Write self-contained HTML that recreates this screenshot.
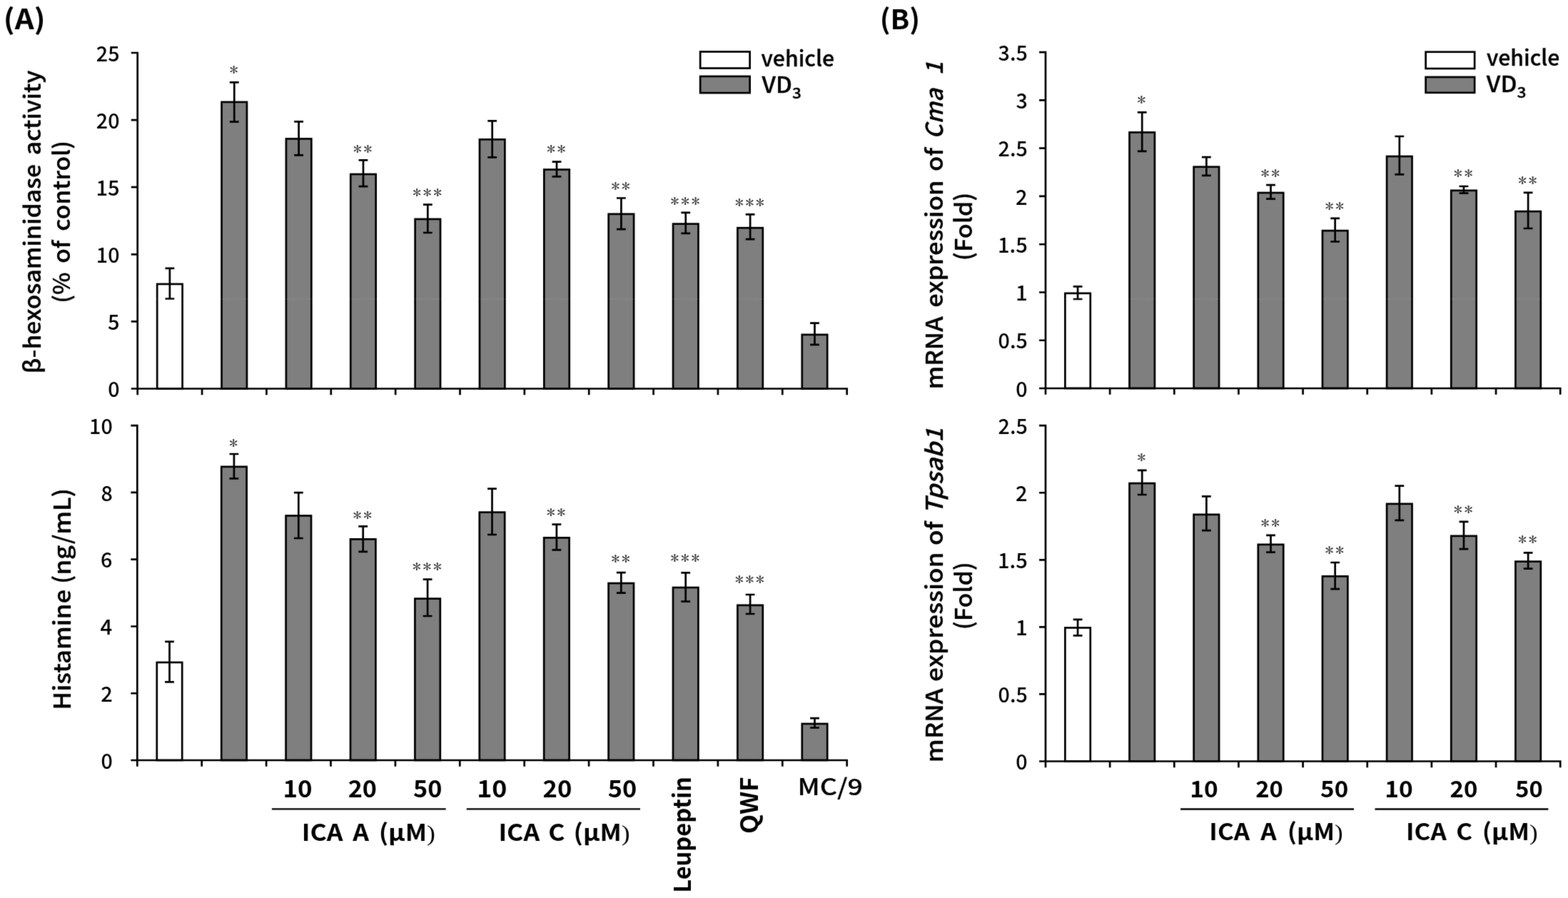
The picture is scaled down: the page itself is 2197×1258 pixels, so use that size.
<!DOCTYPE html><html><head><meta charset="utf-8"><title>Figure</title><style>html,body{margin:0;padding:0;background:#fff;overflow:hidden}svg{display:block}</style></head><body>
<svg width="2197" height="1258" viewBox="0 0 2197 1258">
<defs><filter id="soft" x="0" y="0" width="2197" height="1258" filterUnits="userSpaceOnUse" color-interpolation-filters="sRGB"><feConvolveMatrix order="3" kernelMatrix="0.01134 0.08382 0.01134 0.08382 0.61935 0.08382 0.01134 0.08382 0.01134" divisor="1" edgeMode="duplicate"/></filter></defs>
<g filter="url(#soft)">
<rect width="2197" height="1258" fill="#fff"/>
<g><rect x="220.18" y="397.95" width="35.4" height="146.55" fill="#fff" stroke="#000" stroke-width="2.7"/><path d="M237.88 375.8V418.5M231.48 375.8H244.28M231.48 418.5H244.28" stroke="#000" stroke-width="2.7" fill="none"/><rect x="310.54" y="142.95" width="35.4" height="401.55" fill="#7f7f7f" stroke="#000" stroke-width="2.7"/><path d="M328.24 115.3V170.6M321.84 115.3H334.64M321.84 170.6H334.64" stroke="#000" stroke-width="2.7" fill="none"/><text transform="translate(321.38 105.66) scale(0.2464 0.2240)" font-family="&quot;IPAGothic&quot;, &quot;Liberation Serif&quot;, sans-serif" font-size="100" letter-spacing="9" fill="#303030">*</text><rect x="400.9" y="194.45" width="35.4" height="350.05" fill="#7f7f7f" stroke="#000" stroke-width="2.7"/><path d="M418.6 170.3V217.4M412.2 170.3H425M412.2 217.4H425" stroke="#000" stroke-width="2.7" fill="none"/><rect x="491.26" y="244.05" width="35.4" height="300.45" fill="#7f7f7f" stroke="#000" stroke-width="2.7"/><path d="M508.96 224.4V261.2M502.56 224.4H515.36M502.56 261.2H515.36" stroke="#000" stroke-width="2.7" fill="none"/><text transform="translate(494.83 217.26) scale(0.2464 0.2240)" font-family="&quot;IPAGothic&quot;, &quot;Liberation Serif&quot;, sans-serif" font-size="100" letter-spacing="9" fill="#303030">**</text><rect x="581.62" y="306.95" width="35.4" height="237.55" fill="#7f7f7f" stroke="#000" stroke-width="2.7"/><path d="M599.32 286.6V326M592.92 286.6H605.72M592.92 326H605.72" stroke="#000" stroke-width="2.7" fill="none"/><text transform="translate(577.92 277.51) scale(0.2464 0.2240)" font-family="&quot;IPAGothic&quot;, &quot;Liberation Serif&quot;, sans-serif" font-size="100" letter-spacing="9" fill="#303030">***</text><rect x="671.98" y="195.35" width="35.4" height="349.15" fill="#7f7f7f" stroke="#000" stroke-width="2.7"/><path d="M689.68 169.4V220.3M683.28 169.4H696.08M683.28 220.3H696.08" stroke="#000" stroke-width="2.7" fill="none"/><rect x="762.34" y="237.55" width="35.4" height="306.95" fill="#7f7f7f" stroke="#000" stroke-width="2.7"/><path d="M780.04 226.6V247.3M773.64 226.6H786.44M773.64 247.3H786.44" stroke="#000" stroke-width="2.7" fill="none"/><text transform="translate(765.91 217.16) scale(0.2464 0.2240)" font-family="&quot;IPAGothic&quot;, &quot;Liberation Serif&quot;, sans-serif" font-size="100" letter-spacing="9" fill="#303030">**</text><rect x="852.7" y="299.85" width="35.4" height="244.65" fill="#7f7f7f" stroke="#000" stroke-width="2.7"/><path d="M870.4 277.5V321.2M864 277.5H876.8M864 321.2H876.8" stroke="#000" stroke-width="2.7" fill="none"/><text transform="translate(856.27 269.16) scale(0.2464 0.2240)" font-family="&quot;IPAGothic&quot;, &quot;Liberation Serif&quot;, sans-serif" font-size="100" letter-spacing="9" fill="#303030">**</text><rect x="943.06" y="313.65" width="35.4" height="230.85" fill="#7f7f7f" stroke="#000" stroke-width="2.7"/><path d="M960.76 297.8V326.8M954.36 297.8H967.16M954.36 326.8H967.16" stroke="#000" stroke-width="2.7" fill="none"/><text transform="translate(939.36 290.16) scale(0.2464 0.2240)" font-family="&quot;IPAGothic&quot;, &quot;Liberation Serif&quot;, sans-serif" font-size="100" letter-spacing="9" fill="#303030">***</text><rect x="1033.42" y="319.25" width="35.4" height="225.25" fill="#7f7f7f" stroke="#000" stroke-width="2.7"/><path d="M1051.12 300.4V335.2M1044.72 300.4H1057.52M1044.72 335.2H1057.52" stroke="#000" stroke-width="2.7" fill="none"/><text transform="translate(1029.72 291.96) scale(0.2464 0.2240)" font-family="&quot;IPAGothic&quot;, &quot;Liberation Serif&quot;, sans-serif" font-size="100" letter-spacing="9" fill="#303030">***</text><rect x="1123.78" y="468.85" width="35.4" height="75.65" fill="#7f7f7f" stroke="#000" stroke-width="2.7"/><path d="M1141.48 452.7V482.8M1135.08 452.7H1147.88M1135.08 482.8H1147.88" stroke="#000" stroke-width="2.7" fill="none"/><path d="M192.7 74V544.5H1186.7M185.1 74H192.7M185.1 168.1H192.7M185.1 262.2H192.7M185.1 356.3H192.7M185.1 450.4H192.7M185.1 544.5H192.7M192.7 544.5V551.8M283.06 544.5V551.8M373.42 544.5V551.8M463.78 544.5V551.8M554.14 544.5V551.8M644.5 544.5V551.8M734.86 544.5V551.8M825.22 544.5V551.8M915.58 544.5V551.8M1005.94 544.5V551.8M1096.3 544.5V551.8M1186.66 544.5V551.8" stroke="#000" stroke-width="2.7" fill="none" stroke-linecap="square"/><text transform="translate(134.87 85.71) scale(0.2865)" font-family="&quot;Noto Sans CJK KR&quot;, &quot;Liberation Sans&quot;, sans-serif" font-weight="500" font-size="100">25</text><text transform="translate(134.87 179.81) scale(0.2865)" font-family="&quot;Noto Sans CJK KR&quot;, &quot;Liberation Sans&quot;, sans-serif" font-weight="500" font-size="100">20</text><text transform="translate(134.45 273.91) scale(0.2904)" font-family="&quot;Noto Sans CJK KR&quot;, &quot;Liberation Sans&quot;, sans-serif" font-weight="500" font-size="100">15</text><text transform="translate(134.87 368.01) scale(0.2865)" font-family="&quot;Noto Sans CJK KR&quot;, &quot;Liberation Sans&quot;, sans-serif" font-weight="500" font-size="100">10</text><text transform="translate(151 462.11) scale(0.2904)" font-family="&quot;Noto Sans CJK KR&quot;, &quot;Liberation Sans&quot;, sans-serif" font-weight="500" font-size="100">5</text><text transform="translate(151.2 556.21) scale(0.2865)" font-family="&quot;Noto Sans CJK KR&quot;, &quot;Liberation Sans&quot;, sans-serif" font-weight="500" font-size="100">0</text></g>
<g><rect x="219.8" y="927.95" width="35.4" height="137.05" fill="#fff" stroke="#000" stroke-width="2.7"/><path d="M237.5 898.9V955.4M231.1 898.9H243.9M231.1 955.4H243.9" stroke="#000" stroke-width="2.7" fill="none"/><rect x="310.2" y="653.85" width="35.4" height="411.15" fill="#7f7f7f" stroke="#000" stroke-width="2.7"/><path d="M327.9 636V670.4M321.5 636H334.3M321.5 670.4H334.3" stroke="#000" stroke-width="2.7" fill="none"/><text transform="translate(321.04 628.81) scale(0.2464 0.2240)" font-family="&quot;IPAGothic&quot;, &quot;Liberation Serif&quot;, sans-serif" font-size="100" letter-spacing="9" fill="#303030">*</text><rect x="400.6" y="722.45" width="35.4" height="342.55" fill="#7f7f7f" stroke="#000" stroke-width="2.7"/><path d="M418.3 690.1V754M411.9 690.1H424.7M411.9 754H424.7" stroke="#000" stroke-width="2.7" fill="none"/><rect x="491" y="755.35" width="35.4" height="309.65" fill="#7f7f7f" stroke="#000" stroke-width="2.7"/><path d="M508.7 737.4V772.9M502.3 737.4H515.1M502.3 772.9H515.1" stroke="#000" stroke-width="2.7" fill="none"/><text transform="translate(494.57 729.51) scale(0.2464 0.2240)" font-family="&quot;IPAGothic&quot;, &quot;Liberation Serif&quot;, sans-serif" font-size="100" letter-spacing="9" fill="#303030">**</text><rect x="581.4" y="838.65" width="35.4" height="226.35" fill="#7f7f7f" stroke="#000" stroke-width="2.7"/><path d="M599.1 811.7V863M592.7 811.7H605.5M592.7 863H605.5" stroke="#000" stroke-width="2.7" fill="none"/><text transform="translate(577.7 802.46) scale(0.2464 0.2240)" font-family="&quot;IPAGothic&quot;, &quot;Liberation Serif&quot;, sans-serif" font-size="100" letter-spacing="9" fill="#303030">***</text><rect x="671.8" y="717.65" width="35.4" height="347.35" fill="#7f7f7f" stroke="#000" stroke-width="2.7"/><path d="M689.5 684.6V749M683.1 684.6H695.9M683.1 749H695.9" stroke="#000" stroke-width="2.7" fill="none"/><rect x="762.2" y="753.35" width="35.4" height="311.65" fill="#7f7f7f" stroke="#000" stroke-width="2.7"/><path d="M779.9 734.6V770.4M773.5 734.6H786.3M773.5 770.4H786.3" stroke="#000" stroke-width="2.7" fill="none"/><text transform="translate(765.77 726.21) scale(0.2464 0.2240)" font-family="&quot;IPAGothic&quot;, &quot;Liberation Serif&quot;, sans-serif" font-size="100" letter-spacing="9" fill="#303030">**</text><rect x="852.6" y="817.05" width="35.4" height="247.95" fill="#7f7f7f" stroke="#000" stroke-width="2.7"/><path d="M870.3 802.1V830.7M863.9 802.1H876.7M863.9 830.7H876.7" stroke="#000" stroke-width="2.7" fill="none"/><text transform="translate(856.17 791.21) scale(0.2464 0.2240)" font-family="&quot;IPAGothic&quot;, &quot;Liberation Serif&quot;, sans-serif" font-size="100" letter-spacing="9" fill="#303030">**</text><rect x="943" y="823.05" width="35.4" height="241.95" fill="#7f7f7f" stroke="#000" stroke-width="2.7"/><path d="M960.7 802.3V842.7M954.3 802.3H967.1M954.3 842.7H967.1" stroke="#000" stroke-width="2.7" fill="none"/><text transform="translate(939.3 790.11) scale(0.2464 0.2240)" font-family="&quot;IPAGothic&quot;, &quot;Liberation Serif&quot;, sans-serif" font-size="100" letter-spacing="9" fill="#303030">***</text><rect x="1033.4" y="847.85" width="35.4" height="217.15" fill="#7f7f7f" stroke="#000" stroke-width="2.7"/><path d="M1051.1 833V860M1044.7 833H1057.5M1044.7 860H1057.5" stroke="#000" stroke-width="2.7" fill="none"/><text transform="translate(1029.7 820.31) scale(0.2464 0.2240)" font-family="&quot;IPAGothic&quot;, &quot;Liberation Serif&quot;, sans-serif" font-size="100" letter-spacing="9" fill="#303030">***</text><rect x="1123.8" y="1013.95" width="35.4" height="51.05" fill="#7f7f7f" stroke="#000" stroke-width="2.7"/><path d="M1141.5 1006.2V1019.5M1135.1 1006.2H1147.9M1135.1 1019.5H1147.9" stroke="#000" stroke-width="2.7" fill="none"/><path d="M192.3 596.2V1065H1186.7M184.7 596.2H192.3M184.7 689.96H192.3M184.7 783.72H192.3M184.7 877.48H192.3M184.7 971.24H192.3M184.7 1065H192.3M192.3 1065V1072.3M282.7 1065V1072.3M373.1 1065V1072.3M463.5 1065V1072.3M553.9 1065V1072.3M644.3 1065V1072.3M734.7 1065V1072.3M825.1 1065V1072.3M915.5 1065V1072.3M1005.9 1065V1072.3M1096.3 1065V1072.3M1186.7 1065V1072.3" stroke="#000" stroke-width="2.7" fill="none" stroke-linecap="square"/><text transform="translate(125.07 607.91) scale(0.2865)" font-family="&quot;Noto Sans CJK KR&quot;, &quot;Liberation Sans&quot;, sans-serif" font-weight="500" font-size="100">10</text><text transform="translate(141.4 701.67) scale(0.2865)" font-family="&quot;Noto Sans CJK KR&quot;, &quot;Liberation Sans&quot;, sans-serif" font-weight="500" font-size="100">8</text><text transform="translate(141.12 795.43) scale(0.2865)" font-family="&quot;Noto Sans CJK KR&quot;, &quot;Liberation Sans&quot;, sans-serif" font-weight="500" font-size="100">6</text><text transform="translate(140.4 889.48) scale(0.2944)" font-family="&quot;Noto Sans CJK KR&quot;, &quot;Liberation Sans&quot;, sans-serif" font-weight="500" font-size="100">4</text><text transform="translate(141.2 983.24) scale(0.2904)" font-family="&quot;Noto Sans CJK KR&quot;, &quot;Liberation Sans&quot;, sans-serif" font-weight="500" font-size="100">2</text><text transform="translate(141.4 1076.71) scale(0.2865)" font-family="&quot;Noto Sans CJK KR&quot;, &quot;Liberation Sans&quot;, sans-serif" font-weight="500" font-size="100">0</text></g>
<g><rect x="1492.38" y="410.85" width="35.4" height="133.15" fill="#fff" stroke="#000" stroke-width="2.7"/><path d="M1510.08 401.4V419M1503.67 401.4H1516.48M1503.67 419H1516.48" stroke="#000" stroke-width="2.7" fill="none"/><rect x="1582.52" y="185.45" width="35.4" height="358.55" fill="#7f7f7f" stroke="#000" stroke-width="2.7"/><path d="M1600.22 157.4V211.9M1593.82 157.4H1606.62M1593.82 211.9H1606.62" stroke="#000" stroke-width="2.7" fill="none"/><text transform="translate(1593.36 147.51) scale(0.2464 0.2240)" font-family="&quot;IPAGothic&quot;, &quot;Liberation Serif&quot;, sans-serif" font-size="100" letter-spacing="9" fill="#303030">*</text><rect x="1672.67" y="233.75" width="35.4" height="310.25" fill="#7f7f7f" stroke="#000" stroke-width="2.7"/><path d="M1690.38 220.2V245.8M1683.97 220.2H1696.78M1683.97 245.8H1696.78" stroke="#000" stroke-width="2.7" fill="none"/><rect x="1762.83" y="270.05" width="35.4" height="273.95" fill="#7f7f7f" stroke="#000" stroke-width="2.7"/><path d="M1780.53 259.1V278.7M1774.12 259.1H1786.93M1774.12 278.7H1786.93" stroke="#000" stroke-width="2.7" fill="none"/><text transform="translate(1766.4 250.51) scale(0.2464 0.2240)" font-family="&quot;IPAGothic&quot;, &quot;Liberation Serif&quot;, sans-serif" font-size="100" letter-spacing="9" fill="#303030">**</text><rect x="1852.97" y="323.15" width="35.4" height="220.85" fill="#7f7f7f" stroke="#000" stroke-width="2.7"/><path d="M1870.67 305.8V338.5M1864.27 305.8H1877.08M1864.27 338.5H1877.08" stroke="#000" stroke-width="2.7" fill="none"/><text transform="translate(1856.55 297.16) scale(0.2464 0.2240)" font-family="&quot;IPAGothic&quot;, &quot;Liberation Serif&quot;, sans-serif" font-size="100" letter-spacing="9" fill="#303030">**</text><rect x="1943.12" y="219.05" width="35.4" height="324.95" fill="#7f7f7f" stroke="#000" stroke-width="2.7"/><path d="M1960.83 191V244.4M1954.42 191H1967.23M1954.42 244.4H1967.23" stroke="#000" stroke-width="2.7" fill="none"/><rect x="2033.27" y="266.85" width="35.4" height="277.15" fill="#7f7f7f" stroke="#000" stroke-width="2.7"/><path d="M2050.97 261V270.6M2044.57 261H2057.38M2044.57 270.6H2057.38" stroke="#000" stroke-width="2.7" fill="none"/><text transform="translate(2036.85 251.11) scale(0.2464 0.2240)" font-family="&quot;IPAGothic&quot;, &quot;Liberation Serif&quot;, sans-serif" font-size="100" letter-spacing="9" fill="#303030">**</text><rect x="2123.43" y="296.15" width="35.4" height="247.85" fill="#7f7f7f" stroke="#000" stroke-width="2.7"/><path d="M2141.12 269.9V320M2134.72 269.9H2147.53M2134.72 320H2147.53" stroke="#000" stroke-width="2.7" fill="none"/><text transform="translate(2127 261.31) scale(0.2464 0.2240)" font-family="&quot;IPAGothic&quot;, &quot;Liberation Serif&quot;, sans-serif" font-size="100" letter-spacing="9" fill="#303030">**</text><path d="M1465 73.2V544H2186.2M1457.4 73.2H1465M1457.4 140.46H1465M1457.4 207.71H1465M1457.4 274.97H1465M1457.4 342.23H1465M1457.4 409.49H1465M1457.4 476.74H1465M1457.4 544H1465M1465 544V551.3M1555.15 544V551.3M1645.3 544V551.3M1735.45 544V551.3M1825.6 544V551.3M1915.75 544V551.3M2005.9 544V551.3M2096.05 544V551.3M2186.2 544V551.3" stroke="#000" stroke-width="2.7" fill="none" stroke-linecap="square"/><text transform="translate(1398.56 84.91) scale(0.2865)" font-family="&quot;Noto Sans CJK KR&quot;, &quot;Liberation Sans&quot;, sans-serif" font-weight="500" font-size="100">3.5</text><text transform="translate(1423.49 152.17) scale(0.2865)" font-family="&quot;Noto Sans CJK KR&quot;, &quot;Liberation Sans&quot;, sans-serif" font-weight="500" font-size="100">3</text><text transform="translate(1398.56 219.43) scale(0.2865)" font-family="&quot;Noto Sans CJK KR&quot;, &quot;Liberation Sans&quot;, sans-serif" font-weight="500" font-size="100">2.5</text><text transform="translate(1423 286.97) scale(0.2904)" font-family="&quot;Noto Sans CJK KR&quot;, &quot;Liberation Sans&quot;, sans-serif" font-weight="500" font-size="100">2</text><text transform="translate(1398.02 353.94) scale(0.2904)" font-family="&quot;Noto Sans CJK KR&quot;, &quot;Liberation Sans&quot;, sans-serif" font-weight="500" font-size="100">1.5</text><text transform="translate(1423.08 421.49) scale(0.2944)" font-family="&quot;Noto Sans CJK KR&quot;, &quot;Liberation Sans&quot;, sans-serif" font-weight="500" font-size="100">1</text><text transform="translate(1398.56 488.46) scale(0.2865)" font-family="&quot;Noto Sans CJK KR&quot;, &quot;Liberation Sans&quot;, sans-serif" font-weight="500" font-size="100">0.5</text><text transform="translate(1423.2 555.71) scale(0.2865)" font-family="&quot;Noto Sans CJK KR&quot;, &quot;Liberation Sans&quot;, sans-serif" font-weight="500" font-size="100">0</text></g>
<g><rect x="1492.38" y="879.45" width="35.4" height="187.05" fill="#fff" stroke="#000" stroke-width="2.7"/><path d="M1510.08 867.8V890.3M1503.67 867.8H1516.48M1503.67 890.3H1516.48" stroke="#000" stroke-width="2.7" fill="none"/><rect x="1582.52" y="677.05" width="35.4" height="389.45" fill="#7f7f7f" stroke="#000" stroke-width="2.7"/><path d="M1600.22 658.9V693M1593.82 658.9H1606.62M1593.82 693H1606.62" stroke="#000" stroke-width="2.7" fill="none"/><text transform="translate(1593.36 649.36) scale(0.2464 0.2240)" font-family="&quot;IPAGothic&quot;, &quot;Liberation Serif&quot;, sans-serif" font-size="100" letter-spacing="9" fill="#303030">*</text><rect x="1672.67" y="720.85" width="35.4" height="345.65" fill="#7f7f7f" stroke="#000" stroke-width="2.7"/><path d="M1690.38 695.3V743.2M1683.97 695.3H1696.78M1683.97 743.2H1696.78" stroke="#000" stroke-width="2.7" fill="none"/><rect x="1762.83" y="762.85" width="35.4" height="303.65" fill="#7f7f7f" stroke="#000" stroke-width="2.7"/><path d="M1780.53 749.9V773.7M1774.12 749.9H1786.93M1774.12 773.7H1786.93" stroke="#000" stroke-width="2.7" fill="none"/><text transform="translate(1766.4 741.01) scale(0.2464 0.2240)" font-family="&quot;IPAGothic&quot;, &quot;Liberation Serif&quot;, sans-serif" font-size="100" letter-spacing="9" fill="#303030">**</text><rect x="1852.97" y="807.35" width="35.4" height="259.15" fill="#7f7f7f" stroke="#000" stroke-width="2.7"/><path d="M1870.67 788V825.1M1864.27 788H1877.08M1864.27 825.1H1877.08" stroke="#000" stroke-width="2.7" fill="none"/><text transform="translate(1856.55 778.81) scale(0.2464 0.2240)" font-family="&quot;IPAGothic&quot;, &quot;Liberation Serif&quot;, sans-serif" font-size="100" letter-spacing="9" fill="#303030">**</text><rect x="1943.12" y="705.85" width="35.4" height="360.65" fill="#7f7f7f" stroke="#000" stroke-width="2.7"/><path d="M1960.83 680.7V728.9M1954.42 680.7H1967.23M1954.42 728.9H1967.23" stroke="#000" stroke-width="2.7" fill="none"/><rect x="2033.27" y="750.85" width="35.4" height="315.65" fill="#7f7f7f" stroke="#000" stroke-width="2.7"/><path d="M2050.97 730.9V769.2M2044.57 730.9H2057.38M2044.57 769.2H2057.38" stroke="#000" stroke-width="2.7" fill="none"/><text transform="translate(2036.85 721.86) scale(0.2464 0.2240)" font-family="&quot;IPAGothic&quot;, &quot;Liberation Serif&quot;, sans-serif" font-size="100" letter-spacing="9" fill="#303030">**</text><rect x="2123.43" y="786.65" width="35.4" height="279.85" fill="#7f7f7f" stroke="#000" stroke-width="2.7"/><path d="M2141.12 774.3V796.6M2134.72 774.3H2147.53M2134.72 796.6H2147.53" stroke="#000" stroke-width="2.7" fill="none"/><text transform="translate(2127 764.36) scale(0.2464 0.2240)" font-family="&quot;IPAGothic&quot;, &quot;Liberation Serif&quot;, sans-serif" font-size="100" letter-spacing="9" fill="#303030">**</text><path d="M1465 596.2V1066.5H2186.2M1457.4 596.2H1465M1457.4 690.26H1465M1457.4 784.32H1465M1457.4 878.38H1465M1457.4 972.44H1465M1457.4 1066.5H1465M1465 1066.5V1073.8M1555.15 1066.5V1073.8M1645.3 1066.5V1073.8M1735.45 1066.5V1073.8M1825.6 1066.5V1073.8M1915.75 1066.5V1073.8M2005.9 1066.5V1073.8M2096.05 1066.5V1073.8M2186.2 1066.5V1073.8" stroke="#000" stroke-width="2.7" fill="none" stroke-linecap="square"/><text transform="translate(1398.56 607.91) scale(0.2865)" font-family="&quot;Noto Sans CJK KR&quot;, &quot;Liberation Sans&quot;, sans-serif" font-weight="500" font-size="100">2.5</text><text transform="translate(1423 702.26) scale(0.2904)" font-family="&quot;Noto Sans CJK KR&quot;, &quot;Liberation Sans&quot;, sans-serif" font-weight="500" font-size="100">2</text><text transform="translate(1398.02 796.03) scale(0.2904)" font-family="&quot;Noto Sans CJK KR&quot;, &quot;Liberation Sans&quot;, sans-serif" font-weight="500" font-size="100">1.5</text><text transform="translate(1423.08 890.38) scale(0.2944)" font-family="&quot;Noto Sans CJK KR&quot;, &quot;Liberation Sans&quot;, sans-serif" font-weight="500" font-size="100">1</text><text transform="translate(1398.56 984.15) scale(0.2865)" font-family="&quot;Noto Sans CJK KR&quot;, &quot;Liberation Sans&quot;, sans-serif" font-weight="500" font-size="100">0.5</text><text transform="translate(1423.2 1078.21) scale(0.2865)" font-family="&quot;Noto Sans CJK KR&quot;, &quot;Liberation Sans&quot;, sans-serif" font-weight="500" font-size="100">0</text></g>
<rect x="981.15" y="72.45" width="69.5" height="23.1" fill="#fff" stroke="#000" stroke-width="2.7"/>
<rect x="981.15" y="106.95" width="69.5" height="23.2" fill="#7f7f7f" stroke="#000" stroke-width="2.7"/>
<rect x="1997.65" y="72.75" width="68.5" height="23.3" fill="#fff" stroke="#000" stroke-width="2.7"/>
<rect x="1997.65" y="107.95" width="68.5" height="21.9" fill="#7f7f7f" stroke="#000" stroke-width="2.7"/>
<path d="M380.9 1133.4H624.7" stroke="#000" stroke-width="2.4"/>
<path d="M653.7 1133.4H897" stroke="#000" stroke-width="2.4"/>
<path d="M1654.1 1133.5H1897" stroke="#000" stroke-width="2.4"/>
<path d="M1926.5 1133.5H2169.4" stroke="#000" stroke-width="2.4"/>
<text transform="translate(4.82 40.8) scale(0.4205 0.3905)" font-family="&quot;Noto Sans CJK KR&quot;, &quot;Liberation Sans&quot;, sans-serif" font-weight="bold" font-size="100" >(A)</text>
<text transform="translate(1232.66 40.6) scale(0.3937 0.3838)" font-family="&quot;Noto Sans CJK KR&quot;, &quot;Liberation Sans&quot;, sans-serif" font-weight="bold" font-size="100" >(B)</text>
<text transform="translate(1066.6 92.5) scale(0.3018 0.3025)" font-family="&quot;Noto Sans CJK KR&quot;, &quot;Liberation Sans&quot;, sans-serif" font-weight="500" font-size="100"  stroke="#000" stroke-width="0.99">vehicle</text>
<text transform="translate(1067.6 130.3) scale(0.3273 0.3041)" font-family="&quot;Noto Sans CJK KR&quot;, &quot;Liberation Sans&quot;, sans-serif" font-weight="500" font-size="100"  stroke="#000" stroke-width="0.99">VD<tspan font-size="69%" dy="25">3</tspan></text>
<text transform="translate(2082.9 91.8) scale(0.3018 0.3063)" font-family="&quot;Noto Sans CJK KR&quot;, &quot;Liberation Sans&quot;, sans-serif" font-weight="500" font-size="100"  stroke="#000" stroke-width="0.98">vehicle</text>
<text transform="translate(2082.8 129) scale(0.3303 0.3068)" font-family="&quot;Noto Sans CJK KR&quot;, &quot;Liberation Sans&quot;, sans-serif" font-weight="500" font-size="100"  stroke="#000" stroke-width="0.98">VD<tspan font-size="69%" dy="25">3</tspan></text>
<text transform="translate(57.2 523.29) rotate(-90) scale(0.3357 0.3182)" font-family="&quot;Noto Sans CJK KR&quot;, &quot;Liberation Sans&quot;, sans-serif" font-weight="500" font-size="100" word-spacing="15.2" stroke="#000" stroke-width="0.94">β-hexosaminidase activity</text>
<text transform="translate(98.4 424.81) rotate(-90) scale(0.3342 0.3182)" font-family="&quot;Noto Sans CJK KR&quot;, &quot;Liberation Sans&quot;, sans-serif" font-weight="500" font-size="100" word-spacing="16.1" stroke="#000" stroke-width="0.94">(% of control)</text>
<text transform="translate(99.1 994.48) rotate(-90) scale(0.3476 0.3284)" font-family="&quot;Noto Sans CJK KR&quot;, &quot;Liberation Sans&quot;, sans-serif" font-weight="500" font-size="100"  stroke="#000" stroke-width="0.91">Histamine (ng/mL)</text>
<text transform="translate(1321 545.31) rotate(-90) scale(0.3453 0.3257)" font-family="&quot;Noto Sans CJK KR&quot;, &quot;Liberation Sans&quot;, sans-serif" font-weight="500" font-size="100" word-spacing="14.1" stroke="#000" stroke-width="0.92">mRNA expression of</text>
<text transform="translate(1321.17 194.94) rotate(-90) scale(0.3263 0.3263)" font-family="&quot;Noto Sans CJK KR&quot;, &quot;Liberation Sans&quot;, sans-serif" font-weight="500" font-size="100" word-spacing="36.0" stroke="#000" stroke-width="0.92"><tspan font-style="italic">Cma 1</tspan></text>
<text transform="translate(1362.2 365.27) rotate(-90) scale(0.3416 0.3297)" font-family="&quot;Noto Sans CJK KR&quot;, &quot;Liberation Sans&quot;, sans-serif" font-weight="500" font-size="100"  stroke="#000" stroke-width="0.91">(Fold)</text>
<text transform="translate(1321 1068.27) rotate(-90) scale(0.3517 0.3257)" font-family="&quot;Noto Sans CJK KR&quot;, &quot;Liberation Sans&quot;, sans-serif" font-weight="500" font-size="100" word-spacing="4.6" stroke="#000" stroke-width="0.92">mRNA expression of <tspan font-style="italic">Tpsab1</tspan></text>
<text transform="translate(1362.2 882.25) rotate(-90) scale(0.3393 0.3297)" font-family="&quot;Noto Sans CJK KR&quot;, &quot;Liberation Sans&quot;, sans-serif" font-weight="500" font-size="100"  stroke="#000" stroke-width="0.91">(Fold)</text>
<text transform="translate(396.52 1116.87) scale(0.3481 0.3280)" font-family="&quot;Noto Sans CJK KR&quot;, &quot;Liberation Sans&quot;, sans-serif" font-weight="bold" font-size="100" >10</text>
<text transform="translate(487.63 1116.87) scale(0.3418 0.3280)" font-family="&quot;Noto Sans CJK KR&quot;, &quot;Liberation Sans&quot;, sans-serif" font-weight="bold" font-size="100" >20</text>
<text transform="translate(578.97 1116.87) scale(0.3423 0.3280)" font-family="&quot;Noto Sans CJK KR&quot;, &quot;Liberation Sans&quot;, sans-serif" font-weight="bold" font-size="100" >50</text>
<text transform="translate(668.13 1116.87) scale(0.3585 0.3280)" font-family="&quot;Noto Sans CJK KR&quot;, &quot;Liberation Sans&quot;, sans-serif" font-weight="bold" font-size="100" >10</text>
<text transform="translate(760.51 1116.87) scale(0.3464 0.3280)" font-family="&quot;Noto Sans CJK KR&quot;, &quot;Liberation Sans&quot;, sans-serif" font-weight="bold" font-size="100" >20</text>
<text transform="translate(851.77 1116.87) scale(0.3432 0.3280)" font-family="&quot;Noto Sans CJK KR&quot;, &quot;Liberation Sans&quot;, sans-serif" font-weight="bold" font-size="100" >50</text>
<text transform="translate(422.7 1177.7) scale(0.3554 0.3257)" font-family="&quot;Noto Sans CJK KR&quot;, &quot;Liberation Sans&quot;, sans-serif" font-weight="bold" font-size="100" word-spacing="15.8">ICA A (μM<tspan font-family='"Liberation Serif", serif' font-weight="normal">)</tspan></text>
<text transform="translate(698.4 1177.7) scale(0.3552 0.3257)" font-family="&quot;Noto Sans CJK KR&quot;, &quot;Liberation Sans&quot;, sans-serif" font-weight="bold" font-size="100" word-spacing="11.2">ICA C (μM<tspan font-family='"Liberation Serif", serif' font-weight="normal">)</tspan></text>
<text transform="translate(968.3 1250.63) rotate(-90) scale(0.3257 0.3297)" font-family="&quot;Noto Sans CJK KR&quot;, &quot;Liberation Sans&quot;, sans-serif" font-weight="bold" font-size="100" >Leupeptin</text>
<text transform="translate(1062.2 1168.06) rotate(-90) scale(0.3514 0.3297)" font-family="&quot;Noto Sans CJK KR&quot;, &quot;Liberation Sans&quot;, sans-serif" font-weight="bold" font-size="100" >QWF</text>
<text transform="translate(1117.44 1114.3) scale(0.3763 0.3189)" font-family="&quot;Noto Sans CJK KR&quot;, &quot;Liberation Sans&quot;, sans-serif" font-weight="500" font-size="100"  stroke="#000" stroke-width="0.47">MC/9</text>
<text transform="translate(1667.23 1116.68) scale(0.3340 0.3160)" font-family="&quot;Noto Sans CJK KR&quot;, &quot;Liberation Sans&quot;, sans-serif" font-weight="bold" font-size="100" >10</text>
<text transform="translate(1759.19 1116.68) scale(0.3273 0.3160)" font-family="&quot;Noto Sans CJK KR&quot;, &quot;Liberation Sans&quot;, sans-serif" font-weight="bold" font-size="100" >20</text>
<text transform="translate(1850.11 1116.68) scale(0.3315 0.3160)" font-family="&quot;Noto Sans CJK KR&quot;, &quot;Liberation Sans&quot;, sans-serif" font-weight="bold" font-size="100" >50</text>
<text transform="translate(1940.32 1116.68) scale(0.3349 0.3160)" font-family="&quot;Noto Sans CJK KR&quot;, &quot;Liberation Sans&quot;, sans-serif" font-weight="bold" font-size="100" >10</text>
<text transform="translate(2031.48 1116.68) scale(0.3291 0.3160)" font-family="&quot;Noto Sans CJK KR&quot;, &quot;Liberation Sans&quot;, sans-serif" font-weight="bold" font-size="100" >20</text>
<text transform="translate(2123.22 1116.68) scale(0.3261 0.3160)" font-family="&quot;Noto Sans CJK KR&quot;, &quot;Liberation Sans&quot;, sans-serif" font-weight="bold" font-size="100" >50</text>
<text transform="translate(1694.35 1177.4) scale(0.3496 0.3203)" font-family="&quot;Noto Sans CJK KR&quot;, &quot;Liberation Sans&quot;, sans-serif" font-weight="bold" font-size="100" word-spacing="20.4">ICA A (μM<tspan font-family='"Liberation Serif", serif' font-weight="normal">)</tspan></text>
<text transform="translate(1970.06 1177.4) scale(0.3491 0.3203)" font-family="&quot;Noto Sans CJK KR&quot;, &quot;Liberation Sans&quot;, sans-serif" font-weight="bold" font-size="100" word-spacing="16.0">ICA C (μM<tspan font-family='"Liberation Serif", serif' font-weight="normal">)</tspan></text>
<rect x="0" y="418.2" width="2197" height="1.4" fill="#fff" opacity="0.07"/>
</g>
</svg></body></html>
